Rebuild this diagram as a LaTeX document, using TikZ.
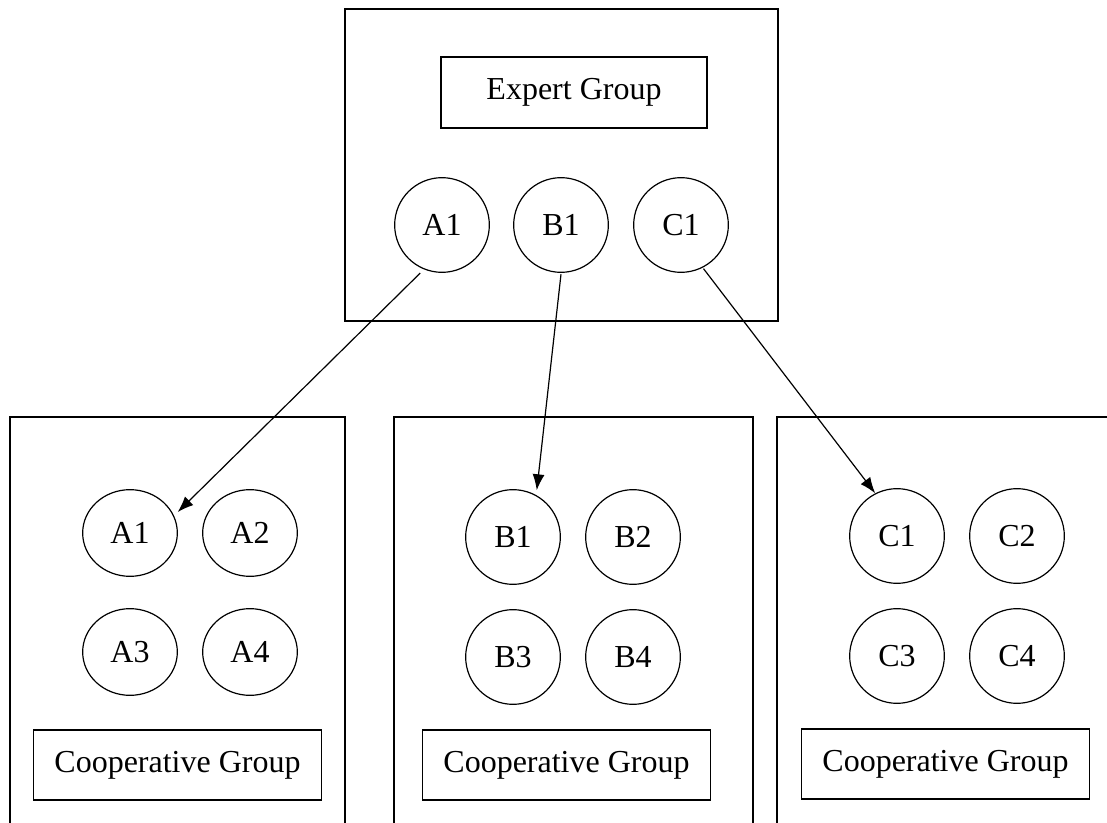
\documentclass[tikz,border=0pt]{standalone}
\usepackage{fontspec}
\setmainfont{Liberation Serif}
\usepackage{tikz}
\usetikzlibrary{arrows.meta, positioning, calc, shapes.geometric}

\begin{document}
\begin{tikzpicture}[x=0.75pt, y=-0.75pt, every node/.style={font=\fontsize{24}{28}\selectfont},
  member/.style={ellipse, draw, line width=0.9pt, inner sep=0pt, minimum width=71pt, minimum height=71pt},
  label box/.style={rectangle, draw, line width=1.4pt, inner sep=0pt, minimum height=53pt},
  outer/.style={line width=1.4pt},
  link/.style={line width=0.9pt, -{Latex[length=12pt, width=9pt]}}]
\useasboundingbox (0,0) rectangle (1107,823);

% expert group
\draw[outer] (345,9) rectangle (778,321);
\node[label box, minimum width=199pt] (expert) at (574,92.5) {Expert Group};
\node[member] (ta1) at (442,225) {A1};
\node[member] (tb1) at (561,225) {B1};
\node[member] (tc1) at (681,225) {C1};

% cooperative groups
\draw[outer] (10,823) |- (345,417) -- (345,823);
\draw[outer] (394,823) |- (753,417) -- (753,823);
\draw[outer] (777,823) |- (1107,417);

\node[member, minimum height=65pt] (ca1) at (130,533) {A1};
\node[member, minimum height=65pt] (ca2) at (250,533) {A2};
\node[member, minimum height=65pt] (ca3) at (130,652) {A3};
\node[member, minimum height=65pt] (ca4) at (250,652) {A4};
\node[label box, minimum width=216pt] (coopa) at (177.5,765) {Cooperative Group};

\node[member] (cb1) at (513,537) {B1};
\node[member] (cb2) at (633,537) {B2};
\node[member] (cb3) at (513,657) {B3};
\node[member] (cb4) at (633,657) {B4};
\node[label box, minimum width=216pt] (coopb) at (566.5,765) {Cooperative Group};

\node[member] (cc1) at (897,536) {C1};
\node[member] (cc2) at (1017,536) {C2};
\node[member] (cc3) at (897,656) {C3};
\node[member] (cc4) at (1017,656) {C4};
\node[label box, minimum width=216pt] (coopc) at (945.5,764) {Cooperative Group};

\draw[link] ([yshift=-4]ta1.243) -- ([shift={(5,-1)}]ca1.25);
\draw[link] ([yshift=-1]tb1.south) -- ([shift={(2,-4)}]cb1.63);
\draw[link] ([yshift=-1]tc1.298) -- (cc1.117);
\end{tikzpicture}
\end{document}
